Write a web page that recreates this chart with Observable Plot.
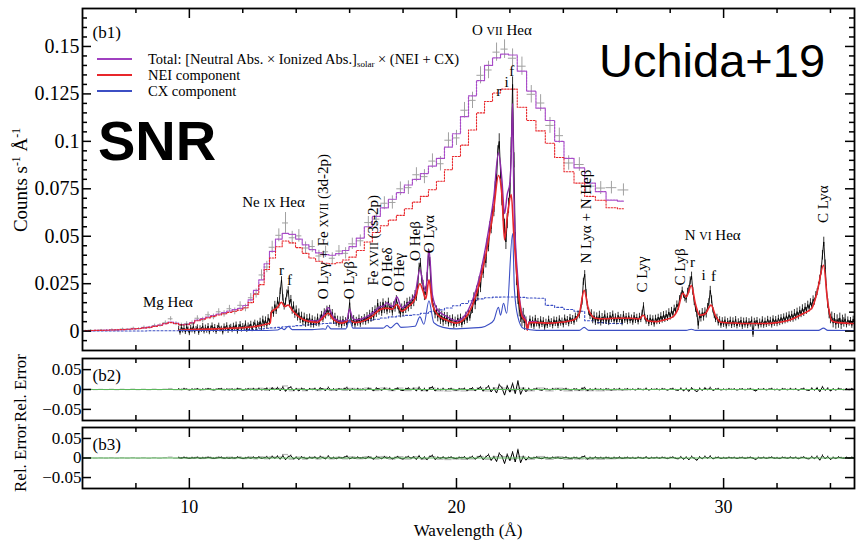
<!DOCTYPE html>
<html lang="en">
<head>
<meta charset="utf-8">
<title>SNR X-ray spectrum</title>
<script src="https://cdn.jsdelivr.net/npm/d3@7"></script>
<script src="https://cdn.jsdelivr.net/npm/@observablehq/plot@0.6"></script>
<style>
  html, body { margin: 0; padding: 0; background: #fff; }
  #chart { position: relative; width: 856px; height: 544px; overflow: hidden; background: #fff;
           font-family: "Liberation Serif", "Times New Roman", "DejaVu Serif", serif; color: #000; }
  #chart svg { position: absolute; left: 0; }
  .vlabel { position: absolute; white-space: nowrap; line-height: 1; transform: translate(-50%, -50%) rotate(-90deg); }
  .hlabel { position: absolute; white-space: nowrap; line-height: 1; transform: translate(-50%, -50%); }
  sup { font-size: 0.62em; line-height: 0; vertical-align: 0.55em; }
  sub { font-size: 0.62em; line-height: 0; vertical-align: -0.3em; }
  #legend { position: absolute; left: 97px; top: 51px; font-size: 14.5px; }
  #legend .row { height: 16px; display: flex; align-items: center; white-space: nowrap; }
  #legend .swatch { width: 35px; height: 2px; margin-right: 16px; flex: none; }
  .stamp { position: absolute; font-family: "Liberation Sans", Arial, Helvetica, sans-serif; line-height: 1; white-space: nowrap; color: #000; }
</style>
</head>
<body>
<div id="chart"></div>
<script>
// ---------------------------------------------------------------------------
// CCD-resolution spectrum (bin centres in Å, values in 1e-3 counts s^-1 Å^-1)
// ---------------------------------------------------------------------------
const ccdWave = [6.1, 6.3, 6.5, 6.7, 6.9, 7.1, 7.3, 7.5, 7.7, 7.9,
  8.1, 8.3, 8.5, 8.7, 8.9, 9.1, 9.3, 9.5, 9.7, 9.9,
  10.1, 10.3, 10.5, 10.7, 10.9, 11.1, 11.3, 11.5, 11.7, 11.9,
  12.1, 12.3, 12.5, 12.7, 12.9, 13.1,
  13.35, 13.6, 13.85, 14.1, 14.35, 14.6, 14.85, 15.1, 15.35, 15.6, 15.85, 16.1,
  16.4, 16.7, 17.0, 17.3, 17.6, 17.9, 18.2, 18.5, 18.8, 19.1, 19.4, 19.7, 20.0, 20.3, 20.6, 20.9, 21.2, 21.5, 21.8, 22.1,
  22.45, 22.8, 23.15, 23.5, 23.85, 24.2, 24.6, 25.0, 25.4, 25.8, 26.25];

const ccdTotal = [0.3, 0.3, 0.4, 0.4, 0.5, 0.6, 0.7, 0.8, 1.0, 1.2,
  1.4, 1.7, 2.1, 2.6, 3.2, 4.0, 4.7, 4.2, 3.5, 3.6,
  4.5, 5.8, 6.6, 7.4, 8.2, 9.0, 9.8, 10.6, 11.3, 12.0,
  13.5, 16.5, 21.5, 27.0, 35.5, 42.0,
  48.5, 51.5, 51.0, 48.5, 45.5, 43.0, 41.2, 40.3, 40.0, 40.8, 42.5, 44.5,
  49.0, 55.0, 60.5, 65.0, 69.5, 73.0, 77.0, 80.0, 83.0, 87.0, 91.0, 97.0, 104.0, 113.0, 124.0, 132.0, 140.0, 144.0, 146.0, 145.5,
  137.0, 126.5, 117.5, 111.0, 100.0, 91.0, 86.0, 78.0, 73.5, 69.0, 68.5];

const ccdNei = [0.3, 0.3, 0.4, 0.4, 0.5, 0.6, 0.7, 0.8, 1.0, 1.2,
  1.4, 1.7, 2.0, 2.5, 3.1, 3.9, 4.5, 4.0, 3.3, 3.4,
  4.3, 5.5, 6.3, 7.0, 7.8, 8.5, 9.2, 9.9, 10.5, 11.1,
  12.3, 15.0, 19.5, 24.5, 32.5, 38.5,
  44.5, 47.5, 46.5, 44.0, 41.0, 38.5, 36.8, 35.8, 35.5, 36.0, 37.5, 39.0,
  42.5, 47.0, 52.0, 55.5, 58.5, 61.0, 64.5, 68.0, 71.0, 74.5, 79.0, 85.0, 92.0, 98.0, 106.0, 115.0, 121.0, 125.5, 127.5, 127.5,
  118.0, 111.0, 105.5, 99.0, 91.5, 84.0, 78.0, 71.0, 69.0, 65.0, 64.5];

const ccdCx = [0.1, 0.1, 0.1, 0.1, 0.1, 0.1, 0.1, 0.1, 0.1, 0.1,
  0.1, 0.1, 0.2, 0.2, 0.2, 0.2, 0.2, 0.2, 0.2, 0.2,
  0.2, 0.3, 0.3, 0.3, 0.3, 0.3, 0.4, 0.4, 0.4, 0.5,
  0.6, 0.8, 1.0, 1.2, 1.5, 1.7,
  2.0, 2.3, 2.6, 2.9, 3.2, 3.5, 3.8, 4.0, 4.2, 4.4, 4.6, 4.9,
  5.3, 5.8, 6.3, 6.9, 7.5, 8.0, 8.3, 8.6, 9.4, 10.3, 11.2, 12.2, 13.4, 14.6, 16.0, 17.0, 17.6, 17.9, 18.0, 18.0,
  17.8, 17.5, 17.3, 13.6, 12.5, 11.4, 10.5, 5.5, 4.5, 4.0, 4.0];

const ccdData = [0.2, 0.5, 0.3, 0.6, 0.4, 0.8, 0.5, 1.1, 0.9, 1.5,
  1.2, 2.0, 1.8, 2.9, 3.0, 4.4, 6.5, 3.9, 3.2, 3.9,
  4.2, 6.8, 5.9, 8.6, 7.5, 10.2, 9.1, 11.8, 10.4, 13.6,
  12.2, 17.6, 19.8, 29.6, 33.8, 44.2,
  50.5, 57.0, 49.2, 50.2, 43.8, 44.6, 39.6, 41.8, 38.4, 42.2, 41.0, 46.0,
  47.6, 57.2, 59.0, 67.4, 67.8, 75.0, 75.6, 82.4, 81.4, 89.6, 88.2, 100.6, 101.8, 116.4, 121.6, 134.8, 137.6, 147.0, 148.6, 143.8,
  139.6, 124.8, 120.2, 108.4, 103.0, 88.6, 87.8, 76.4, 75.4, 75.6, 74.4];

const ccdErr = [0.3, 0.3, 0.3, 0.3, 0.4, 0.4, 0.4, 0.5, 0.5, 0.6,
  0.6, 0.7, 0.7, 0.8, 0.9, 1.0, 1.1, 1.0, 1.0, 1.1,
  1.2, 1.3, 1.4, 1.5, 1.5, 1.6, 1.7, 1.8, 1.8, 1.9,
  2.0, 2.2, 2.4, 2.7, 3.0, 3.2,
  3.4, 5.5, 3.4, 3.3, 3.2, 3.1, 3.0, 3.0, 2.9, 2.9, 3.0, 3.0,
  3.1, 3.2, 3.3, 3.4, 3.5, 3.6, 3.6, 3.7, 3.7, 3.8, 3.8, 3.9, 4.0, 4.1, 4.3, 4.5, 4.6, 4.8, 4.9, 4.9,
  4.8, 4.6, 4.4, 4.2, 4.0, 3.8, 3.6, 3.5, 3.4, 3.3, 3.2];

// relative error of the CCD fit (1e-3)
const ccdResid = [0.0, 0.4, -0.2, 0.4, -0.2, 0.6, -0.4, 0.6, -0.2, 0.8,
  -0.4, 0.6, -0.6, 0.8, -0.4, 0.8, 2.4, -0.6, -0.6, 0.6,
  -0.6, 1.8, -1.2, 2.0, -1.2, 2.0, -1.2, 2.0, -1.4, 2.4,
  -1.6, 2.6, -2.2, 3.2, -2.0, 3.0,
  2.8, 9.0, -3.2, 2.4, -3.0, 2.0, -2.6, 1.6, -2.4, 2.0, -2.2, 2.8,
  -2.0, 3.6, -2.6, 3.8, -2.8, 3.6, -2.8, 3.4, -3.0, 3.6, -3.2, -4.0, -2.8, -3.6, -2.4, 4.0, -3.6, 3.8, 3.6, -2.8,
  3.4, -3.2, 3.8, -3.4, 3.2, -3.4, -2.6, -3.0, -3.2, -2.0, -1.4];

// ---------------------------------------------------------------------------
// Grating spectrum: 0.05 Å channels from 9.6 Å (1e-3 counts s^-1 Å^-1)
// ---------------------------------------------------------------------------
const rgsStart = 9.6;
const rgsStep = 0.05;
const rgsCounts = [
  1.2, -0.8, 2.1, 0.3, 1.6, -0.5, 2.4, 0.9, -1.1, 1.8, 0.4, 2.6, -0.3, 1.1, 2.0, -0.9, 1.5, 0.6, 2.8, -0.2,
  1.9, 0.2, 2.7, -0.6, 1.4, 3.0, 0.5, 2.2, -0.4, 1.7, 2.9, 0.8, 1.3, -0.7, 2.5, 1.0, 3.1, 0.1, 1.8, 2.3,
  0.6, 2.8, 1.2, 3.4, -0.2, 2.0, 3.6, 0.9, 2.6, 1.5, 4.0, 0.7, 2.9, 1.9, 3.8, 1.1, 3.3, 4.4, 1.6, 3.9,
  2.8, 5.1, 2.0, 6.2, 3.5, 5.8, 2.9, 7.0, 4.6, 8.2, 11.0, 9.0, 14.0, 10.5, 16.0, 13.5, 21.0, 27.0, 17.5, 12.8,
  15.5, 19.8, 21.5, 14.2, 16.9, 10.8, 13.5, 8.6, 11.4, 7.2, 9.8, 5.9, 8.1, 4.8, 7.6, 3.9, 6.8, 4.4, 7.1, 3.6,
  6.5, 3.2, 5.8, 4.0, 7.4, 3.8, 6.9, 8.8, 6.1, 10.2, 8.0, 11.6, 9.2, 12.0, 7.6, 9.8, 5.2, 7.8, 4.1, 6.3,
  3.4, 5.9, 2.8, 6.2, 4.0, 5.5, 3.2, 7.8, 15.0, 6.4, 3.9, 6.6, 3.1, 5.7, 4.2, 6.9, 3.6, 6.1, 4.8, 7.2,
  4.9, 8.0, 5.6, 9.2, 6.4, 10.6, 7.1, 11.5, 9.0, 14.8, 10.2, 13.4, 9.6, 15.2, 11.0, 13.9, 10.4, 15.6, 11.2, 13.0,
  9.8, 13.6, 11.9, 16.8, 13.2, 11.0, 8.9, 12.4, 9.6, 13.8, 11.2, 15.4, 12.1, 16.0, 13.3, 17.2, 14.8, 19.5, 17.6, 24.0,
  33.5, 36.0, 27.0, 24.5, 18.4, 21.0, 28.5, 41.0, 36.5, 22.0, 15.0, 12.4, 8.8, 11.0, 7.2, 9.5, 5.8, 8.1, 4.9, 7.6,
  5.0, 8.2, 3.8, 6.6, 4.2, 7.0, 2.9, 5.8, 3.6, 6.9, 4.1, 7.4, 3.3, 6.2, 5.0, 8.4, 5.6, 9.8, 6.8, 10.5,
  12.0, 17.5, 14.0, 21.0, 18.5, 26.0, 23.0, 32.0, 30.5, 39.0, 36.0, 46.0, 44.5, 55.0, 54.0, 64.0, 63.0, 76.0, 80.0, 95.0,
  100.0, 84.0, 70.0, 62.0, 55.0, 47.0, 58.0, 66.0, 74.0, 98.0, 130.0, 90.0, 48.0, 28.0, 18.0, 11.5, 8.6, 6.2, 8.0, 4.4,
  6.0, 1.8, 3.2, 6.5, 3.0, 5.9, 2.4, 6.8, 3.7, 5.2, 2.6, 6.1, 3.4, 5.6, 1.9, 4.8, 2.9, 6.4, 3.5, 5.1,
  2.7, 6.0, 3.9, 5.8, 2.8, 6.6, 4.1, 5.4, 3.2, 7.0, 4.5, 6.2, 3.8, 7.3, 5.0, 6.7, 4.6, 8.0, 6.2, 9.0,
  8.4, 11.8, 15.5, 26.0, 30.0, 20.0, 13.5, 10.2, 8.0, 9.4, 5.8, 8.2, 4.9, 7.7, 5.3, 8.6, 4.6, 7.4, 5.5, 8.8,
  5.0, 7.9, 4.4, 8.3, 6.0, 9.1, 5.2, 7.6, 4.8, 8.4, 5.9, 7.2, 4.3, 8.9, 5.6, 7.8, 4.9, 8.1, 5.4, 7.0,
  4.6, 8.3, 5.5, 7.4, 4.8, 7.9, 6.0, 9.5, 13.5, 7.2, 5.1, 6.8, 3.9, 7.0, 4.4, 6.6, 3.6, 6.9, 4.9, 7.4,
  5.2, 8.0, 5.9, 8.6, 6.3, 9.0, 6.8, 10.1, 7.5, 10.8, 8.6, 12.0, 10.5, 14.2, 12.6, 17.0, 18.4, 21.5, 19.0, 17.2,
  16.8, 20.5, 22.0, 26.5, 29.0, 21.0, 15.6, 12.0, 9.4, 3.0, 8.6, 6.9, 9.8, 7.4, 10.2, 9.0, 12.5, 15.0, 21.5, 16.5,
  11.0, 8.2, 6.0, 7.4, 4.2, 6.1, 3.0, 5.6, 3.4, 6.0, 2.6, 5.2, 3.8, 5.9, 2.9, 5.5, 3.3, 6.2, 2.7, 5.0,
  3.5, 5.8, 2.4, 5.4, 3.1, 5.6, 2.8, 5.1, 3.6, 6.0, -1.8, 5.3, 3.9, 5.7, 2.6, 4.9, 3.2, 6.1, 3.0, 5.4,
  3.4, 6.3, 3.9, 5.8, 3.1, 6.6, 4.0, 6.2, 3.8, 6.9, 4.4, 7.2, 4.9, 7.6, 5.3, 8.1, 5.8, 8.7, 6.2, 9.0,
  6.5, 9.6, 7.2, 10.3, 7.8, 11.0, 8.9, 12.1, 9.5, 12.8, 10.6, 14.0, 11.9, 15.3, 13.0, 16.8, 15.5, 19.0, 20.5, 24.0,
  27.0, 32.0, 40.0, 47.0, 35.0, 22.0, 14.5, 9.0, 6.4, 7.6, 4.2, 6.8, 3.5, 6.1, 4.0, 7.0, 3.4, 5.9, 4.6, 6.5,
  3.2, 6.0, 4.1, 5.7, 3.0, 6.4, 4.5, 5.8, 3.9];

// 1-sigma errors of the grating channels, one value per 1-Å band from 9.6 Å
const rgsErrBand = [1.3, 1.3, 1.4, 1.7, 1.9, 1.6, 1.6, 1.8, 1.9, 2.3, 1.6, 2.7, 4.0,
  1.5, 1.5, 1.9, 1.5, 1.5, 1.7, 2.1, 1.5, 1.5, 1.5, 1.8, 2.5, 1.5];

// relative error of the grating fit, 0.1 Å steps from 9.6 Å (1e-3)
const residStep = 0.1;
const residErr = 1.5;
const rgsResid = [
  0.8, -0.4, 1.5, 0.2, -1.2, 0.6, -0.3, 1.1, -0.9, 0.4,
  -0.2, 1.3, 0.5, -1.0, -0.3, 0.9, 1.4, -0.6, 0.2, -1.1,
  0.7, -0.5, 1.8, 0.3, -1.4, 0.1, 1.0, -0.8, 1.6, -0.2,
  1.9, -1.2, 0.6, 2.8, -2.1, 3.5, -0.8, 4.2, -3.0, 5.8,
  -4.5, 3.2, 6.0, -2.5, 1.4, -3.6, 2.2, 0.5, -1.8, 1.2,
  -0.6, 2.0, -1.5, 3.4, 0.8, -2.6, 4.8, -1.2, 0.9, -2.0,
  1.1, -0.4, 1.8, 4.5, -2.2, 0.6, -1.0, 1.7, -0.3, 0.8,
  -1.5, 2.4, 0.4, -2.8, 3.1, 1.2, -1.9, 2.6, -0.7, 1.9,
  -2.4, 0.9, 2.8, -1.3, -2.9, 1.5, 3.2, -0.6, 2.1, -3.5,
  5.2, -2.8, 1.9, -4.1, 3.5, 6.2, -3.8, 1.6, -0.9, 2.0,
  -1.2, 0.8, 1.9, -0.5, -1.6, 1.3, 0.4, 2.2, -2.6, 1.0,
  3.4, -2.9, 1.5, 5.6, -4.2, 2.8, 8.5, -6.0, 3.0, -8.8,
  12.0, 4.5, -14.0, 9.0, -6.5, 15.0, -10.0, 21.0, -12.0, 3.5,
  -5.5, 2.0, -1.4, 0.6, 1.5, -0.8, -1.9, 1.2, 0.3, -1.0,
  1.4, -0.3, 0.9, -1.5, 0.2, 1.8, -0.6, -1.2, 1.0, 0.5,
  -1.8, 2.5, 4.2, -3.0, 0.8, -1.1, 1.6, -0.4, 0.7, -0.9,
  1.2, 0.3, -1.3, 0.9, -0.5, 1.6, -1.0, 0.2, 1.1, -0.7,
  0.5, -1.2, 1.4, 0.1, -0.8, 2.2, -1.5, 0.6, -0.2, 1.0,
  -0.9, 1.3, 0.4, -1.6, 0.8, 1.9, -1.1, -2.2, 2.6, -3.2,
  1.8, -4.6, 3.5, -1.0, -5.8, 2.4, -2.0, 3.6, -0.8, 4.4,
  -2.4, 0.6, 1.5, -1.2, 0.3, -0.7, 1.2, -0.2, 0.8, -1.3,
  0.4, 1.0, -0.9, 0.3, 1.4, -0.5, -3.8, 0.9, -0.4, 1.1,
  -1.1, 0.6, 1.7, -0.8, 0.2, -1.4, 1.3, 0.5, -0.9, 1.6,
  -0.5, 1.2, -1.8, 0.7, 2.1, -1.3, -2.4, 2.9, -1.6, 3.8,
  -5.5, 6.5, -2.0, 3.2, -3.8, 1.0, -1.4, 2.0, 0.4, -0.8,
  0.9, -0.6, 1.3, -0.3, 0.5];

// ---------------------------------------------------------------------------
// Model curves for the grating spectrum (Å, 1e-3 counts s^-1 Å^-1)
// ---------------------------------------------------------------------------
const neiWave = [9.6, 10.0, 10.5, 11.0, 11.5, 12.0, 12.5, 12.9, 13.03, 13.07, 13.3, 13.45, 13.57, 13.7, 13.85,
  14.1, 14.5, 14.8, 15.0, 15.2, 15.4, 15.7, 16.0, 16.2, 16.6, 16.9, 17.1, 17.3, 17.45, 17.6, 17.77, 17.95,
  18.2, 18.45, 18.63, 18.75, 18.85, 18.97, 19.1, 19.3, 19.6, 20.0, 20.3, 20.45, 20.67, 20.94, 21.2, 21.4,
  21.57, 21.7, 21.8, 21.9, 22.05, 22.15, 22.3, 22.45, 22.6, 22.65, 22.72, 23.0, 23.5, 24.0, 24.4, 24.6,
  24.78, 24.95, 25.2, 25.5, 26.0, 26.5, 26.85, 26.99, 27.15, 27.5, 27.8, 28.1, 28.3, 28.47, 28.6, 28.79,
  28.95, 29.1, 29.3, 29.53, 29.7, 29.9, 30.5, 31.0, 31.5, 32.0, 32.5, 33.0, 33.3, 33.5, 33.74, 33.9, 34.05,
  34.3, 35.0];
const neiValue = [0.5, 0.8, 1.0, 1.2, 1.5, 1.8, 2.5, 3.8, 4.3, 10.0, 12.5, 15.2, 13.0, 13.8, 11.0,
  7.5, 5.0, 4.6, 7.0, 9.4, 6.0, 4.2, 5.5, 4.5, 5.8, 8.5, 11.0, 12.0, 12.0, 11.5, 14.0, 10.5,
  13.0, 17.0, 25.0, 21.0, 17.0, 27.0, 14.0, 8.5, 6.0, 4.2, 6.5, 9.4, 16.3, 30.0, 48.0, 65.0,
  82.0, 72.0, 48.0, 60.0, 72.0, 50.0, 23.0, 8.0, 4.8, 0.5, 4.5, 4.5, 4.2, 4.8, 6.0, 9.4,
  21.5, 11.0, 6.8, 6.5, 6.8, 6.8, 6.5, 8.4, 5.5, 5.0, 6.0, 7.5, 12.0, 20.0, 18.0, 24.0,
  14.0, 8.4, 9.0, 13.7, 8.0, 4.7, 4.2, 4.0, 4.0, 4.5, 6.0, 9.4, 12.0, 20.5, 34.7, 15.0, 5.5,
  4.5, 4.0];

const totalWave = [14.5, 14.8, 15.0, 15.2, 15.4, 15.7, 15.9, 16.0, 16.1, 16.2, 16.6, 16.9, 17.1, 17.3, 17.4,
  17.5, 17.6, 17.77, 17.95, 18.2, 18.45, 18.63, 18.75, 18.85, 18.97, 19.1, 19.3, 19.6, 20.0, 20.3, 20.45,
  20.67, 20.94, 21.2, 21.4, 21.57, 21.7, 21.8, 21.9, 22.0, 22.05, 22.1, 22.15, 22.3, 22.45, 22.6, 22.65,
  22.72, 23.0];
const totalValue = [5.7, 5.4, 8.2, 12.4, 7.0, 5.2, 6.0, 11.5, 7.2, 6.0, 7.3, 10.0, 12.5, 13.5, 15.0,
  13.8, 13.0, 18.0, 12.3, 15.0, 19.5, 32.5, 25.0, 21.0, 43.0, 19.0, 11.0, 8.0, 5.5, 8.0, 11.4,
  19.0, 33.5, 53.0, 71.0, 94.0, 80.0, 62.0, 72.0, 78.0, 92.0, 120.0, 70.0, 27.0, 9.5, 5.5, 1.2,
  5.0, 5.0];

const cxWave = [9.6, 12.5, 13.3, 13.45, 13.55, 13.7, 13.85, 14.6, 15.0, 15.1, 15.18, 15.3, 15.85, 16.0, 16.12,
  17.25, 17.4, 17.52, 17.77, 17.92, 18.45, 18.63, 18.78, 18.97, 19.15, 19.5, 20.0, 20.5, 20.94, 21.2, 21.4,
  21.57, 21.65, 21.76, 21.88, 22.1, 22.17, 22.3, 22.5, 23.0, 24.6, 24.78, 24.95, 28.6, 28.79, 28.95, 33.55,
  33.74, 33.9, 35.0];
const cxValue = [0.3, 0.3, 0.6, 1.6, 0.8, 2.6, 0.8, 0.8, 1.2, 1.0, 3.0, 1.2, 1.2, 6.0, 1.6,
  1.6, 3.0, 1.7, 4.2, 2.0, 2.6, 7.5, 3.6, 16.0, 4.5, 2.0, 1.2, 1.6, 2.0, 3.5, 5.8,
  12.6, 8.4, 14.7, 9.4, 51.4, 21.5, 7.4, 1.5, 0.4, 0.4, 2.0, 0.4, 0.4, 1.0, 0.4, 0.4,
  1.6, 0.4, 0.3];

// ---------------------------------------------------------------------------
// Line identifications: text, wavelength (Å), height (counts s^-1 Å^-1), upright
// ---------------------------------------------------------------------------
const lineText = ["Mg Heα", "Ne {IX} Heα", "r", "f", "O Lyγ + Fe {XVII} (3d-2p)", "O Lyβ",
  "Fe {XVII} (3s-2p)", "O Heδ", "O Heγ", "O Heβ", "O Lyα", "O {VII} Heα", "r", "i", "f",
  "N Lyα + N Heβ", "C Lyγ", "C Lyβ", "N {VI} Heα", "r", "i", "f", "C Lyα"];
const lineWave = [9.2, 13.15, 13.45, 13.75, 15.02, 16.0, 16.9, 17.42, 17.87, 18.47, 18.96, 21.7, 21.58, 21.88, 22.07,
  24.86, 26.97, 28.36, 29.59, 28.84, 29.25, 29.62, 33.74];
const lineLevel = [0.015, 0.0677, 0.0319, 0.0266, 0.0168, 0.0168, 0.024, 0.0235, 0.0208, 0.037, 0.041, 0.1587, 0.1266, 0.131, 0.137,
  0.0356, 0.0203, 0.024, 0.0503, 0.0361, 0.0293, 0.0287, 0.057];
const lineUpright = [false, false, false, false, true, true, true, true, true, true, true, false, false, false, false,
  true, true, true, false, false, false, false, true];

// Axis ticks
const waveDomain = [6, 34.9];
const xMajor = [10, 20, 30];
const xMinor = [8, 12, 14, 16, 18, 22, 24, 26, 28, 32, 34];
const countTicks = [0, 0.025, 0.05, 0.075, 0.1, 0.125, 0.15];
const countMinor = [-0.005, 0.005, 0.01, 0.015, 0.02, 0.03, 0.035, 0.04, 0.045, 0.055, 0.06, 0.065, 0.07,
  0.08, 0.085, 0.09, 0.095, 0.105, 0.11, 0.115, 0.12, 0.13, 0.135, 0.14, 0.145, 0.155, 0.16, 0.165];
const relTicks = [-0.05, 0, 0.05];

// Legend entries
const legendItems = [
  {label: "Total: [Neutral Abs. × Ionized Abs.]<sub>solar</sub> × (NEI + CX)", color: "#a040c0"},
  {label: "NEI component", color: "#e8262b"},
  {label: "CX component", color: "#3c4fc4"}
];

// ---------------------------------------------------------------------------
const SERIF = '"Liberation Serif", "Times New Roman", serif';
const PURPLE = "#a84cc8", RED = "#e8262b", BLUE = "#3c4fc4", GRAY = "#a0a0a0", GREEN = "#5cb85c";
const W = 856, ML = 82, MR = 2, FW = W - ML - MR;

const ccd = ccdWave.map((w, i) => {
  const gap = i < ccdWave.length - 1 ? ccdWave[i + 1] - w : w - ccdWave[i - 1];
  return {
    wave: w, half: 0.45 * gap,
    total: ccdTotal[i] / 1e3, nei: ccdNei[i] / 1e3, cx: ccdCx[i] / 1e3,
    data: ccdData[i] / 1e3, lo: (ccdData[i] - ccdErr[i]) / 1e3, hi: (ccdData[i] + ccdErr[i]) / 1e3,
    resid: ccdResid[i] / 1e3
  };
});

const rgs = rgsCounts.map((v, i) => {
  const wave = rgsStart + i * rgsStep;
  const err = rgsErrBand[Math.min(Math.floor(i * rgsStep + 1e-9), rgsErrBand.length - 1)];
  return {wave, value: v / 1e3, lo: (v - err) / 1e3, hi: (v + err) / 1e3};
});

const resid = rgsResid.map((v, i) => ({
  wave: rgsStart + i * residStep, value: v / 1e3, lo: (v - residErr) / 1e3, hi: (v + residErr) / 1e3
}));

const curve = (ws, vs) => ws.map((wave, i) => ({wave, value: vs[i] / 1e3}));
const neiModel = curve(neiWave, neiValue);
const totalModel = curve(totalWave, totalValue);
const cxModel = curve(cxWave, cxValue);

const lineLabels = lineText.map((text, i) => ({text, wave: lineWave[i], level: lineLevel[i], upright: lineUpright[i]}));

const fmt = d => (d < 0 ? "\u2212" : "") + String(Math.abs(d));

// inward ticks on all four sides of a panel
function frameTicks(fh, yMajor, yMinor) {
  const s = {stroke: "#000", strokeWidth: 1.5};
  return [
    Plot.tickX(xMajor, {x: d => d, insetTop: fh - 10, ...s}),
    Plot.tickX(xMajor, {x: d => d, insetBottom: fh - 10, ...s}),
    Plot.tickX(xMinor, {x: d => d, insetTop: fh - 5, ...s}),
    Plot.tickX(xMinor, {x: d => d, insetBottom: fh - 5, ...s}),
    Plot.tickY(yMajor, {y: d => d, insetRight: FW - 9, ...s}),
    Plot.tickY(yMajor, {y: d => d, insetLeft: FW - 9, ...s}),
    Plot.tickY(yMinor, {y: d => d, insetRight: FW - 5, ...s}),
    Plot.tickY(yMinor, {y: d => d, insetLeft: FW - 5, ...s})
  ];
}

const baseStyle = {fontFamily: SERIF, fontSize: "20px", background: "transparent", color: "#000"};

// (b1) spectrum panel
const mainH = 352, mainTop = 8, mainBottom = 2;
const main = Plot.plot({
  width: W, height: mainH, marginTop: mainTop, marginBottom: mainBottom, marginLeft: ML, marginRight: MR,
  style: baseStyle,
  x: {domain: waveDomain, axis: null},
  y: {domain: [-0.0102, 0.17]},
  marks: [
    Plot.ruleX(ccd, {x: "wave", y1: "lo", y2: "hi", stroke: GRAY, strokeWidth: 1}),
    Plot.ruleY(ccd, {y: "data", x1: d => d.wave - d.half, x2: d => d.wave + d.half, stroke: GRAY, strokeWidth: 1}),
    Plot.line(ccd, {x: "wave", y: "cx", curve: "step", stroke: BLUE, strokeWidth: 1.1, strokeDasharray: "2,2"}),
    Plot.line(ccd, {x: "wave", y: "total", curve: "step", stroke: PURPLE, strokeWidth: 1.2, strokeDasharray: "2,1"}),
    Plot.line(ccd, {x: "wave", y: "nei", curve: "step", stroke: RED, strokeWidth: 1.1, strokeDasharray: "1.5,1.5"}),
    Plot.ruleX(rgs, {x: "wave", y1: "lo", y2: "hi", stroke: "#000", strokeWidth: 0.8, clip: true}),
    Plot.line(rgs, {x: "wave", y: "value", stroke: "#000", strokeWidth: 0.9, clip: true}),
    Plot.line(totalModel, {x: "wave", y: "value", curve: "monotone-x", stroke: "#8e2aa8", strokeWidth: 1.4}),
    Plot.line(neiModel, {x: "wave", y: "value", curve: "monotone-x", stroke: RED, strokeWidth: 1.6, clip: true}),
    Plot.line(cxModel, {x: "wave", y: "value", curve: "monotone-x", stroke: BLUE, strokeWidth: 1.1, clip: true}),
    Plot.text(lineLabels.filter(d => !d.upright), {x: "wave", y: "level", text: "text", textAnchor: "middle", lineAnchor: "middle", fontSize: 15, fill: "#000"}),
    Plot.text(lineLabels.filter(d => d.upright), {x: "wave", y: "level", text: "text", rotate: -90, textAnchor: "start", lineAnchor: "middle", fontSize: 15, fill: "#000"}),
    Plot.text(["(b1)"], {text: d => d, frameAnchor: "top-left", textAnchor: "start", lineAnchor: "middle", dx: 10, dy: 24, fontSize: 17}),
    ...frameTicks(mainH - mainTop - mainBottom, countTicks, countMinor),
    Plot.axisY({ticks: countTicks, tickSize: 0, tickPadding: 3, tickFormat: fmt, label: null}),
    Plot.frame({stroke: "#000", strokeWidth: 1.8})
  ]
});

// (b2), (b3) relative-error panels
function residualPanel(tag, height, marginTop, marginBottom, withWaveAxis) {
  const fh = height - marginTop - marginBottom;
  const marks = [
    Plot.ruleY(ccd, {y: "resid", x1: d => d.wave - d.half, x2: d => d.wave + d.half, stroke: "#b8b8b8", strokeWidth: 1.2}),
    Plot.ruleX(resid, {x: "wave", y1: "lo", y2: "hi", stroke: "#000", strokeWidth: 0.8, clip: true}),
    Plot.line(resid, {x: "wave", y: "value", stroke: "#000", strokeWidth: 1, clip: true}),
    Plot.ruleY([0], {stroke: GREEN, strokeWidth: 1}),
    Plot.text([tag], {text: d => d, frameAnchor: "top-left", textAnchor: "start", lineAnchor: "middle", dx: 10, dy: 17, fontSize: 17}),
    ...frameTicks(fh, relTicks, []),
    Plot.axisY({ticks: relTicks, tickSize: 0, tickPadding: 1, tickFormat: fmt, label: null, fontSize: 17})
  ];
  if (withWaveAxis) marks.push(Plot.axisX({ticks: xMajor, tickSize: 0, tickPadding: 12, label: null, fontSize: 18}));
  marks.push(Plot.frame({stroke: "#000", strokeWidth: 1.8}));
  return Plot.plot({
    width: W, height, marginTop, marginBottom, marginLeft: ML, marginRight: MR,
    style: baseStyle,
    x: {domain: waveDomain, axis: null},
    y: {domain: [-0.078, 0.078]},
    marks
  });
}

const b2 = residualPanel("(b2)", 72, 6, 4, false);
const b3 = residualPanel("(b3)", 120, 3, 56, true);

// roman numerals of ion stages in small capitals
function smallCaps(svg) {
  svg.querySelectorAll("text").forEach(t => {
    if (!t.children.length && t.textContent.includes("{")) {
      t.innerHTML = t.textContent.replace(/\{([^}]*)\}/g, '<tspan font-size="0.78em">$1</tspan>');
    }
  });
}
smallCaps(main);

const chart = document.getElementById("chart");
[[main, 0], [b2, 352], [b3, 424]].forEach(([svg, top]) => {
  svg.style.position = "absolute";
  svg.style.top = top + "px";
  svg.style.left = "0px";
  chart.appendChild(svg);
});

function overlay(cls, html, left, top, extra = {}) {
  const el = document.createElement("div");
  el.className = cls;
  el.innerHTML = html;
  el.style.left = left + "px";
  el.style.top = top + "px";
  Object.assign(el.style, extra);
  chart.appendChild(el);
  return el;
}

// axis titles
overlay("vlabel", "Counts s<sup>-1</sup> Å<sup>-1</sup>", 20, 180, {fontSize: "19px"});
overlay("vlabel", "Rel. Error", 20, 388, {fontSize: "17px"});
overlay("vlabel", "Rel. Error", 20, 458, {fontSize: "17px"});
overlay("hlabel", "Wavelength (Å)", 468, 530, {fontSize: "17px"});

// legend
const legend = document.createElement("div");
legend.id = "legend";
legendItems.forEach(item => {
  const row = document.createElement("div");
  row.className = "row";
  row.innerHTML = `<span class="swatch" style="background:${item.color}"></span><span>${item.label}</span>`;
  legend.appendChild(row);
});
chart.appendChild(legend);

// headline stamps
overlay("stamp", "SNR", 98, 113, {fontSize: "56px", fontWeight: "bold"});
overlay("stamp", "Uchida+19", 599, 37, {fontSize: "47px"});
</script>
</body>
</html>
